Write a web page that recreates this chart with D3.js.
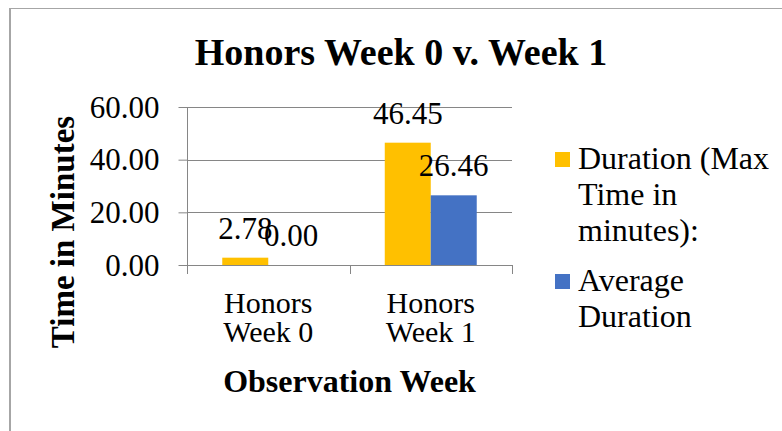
<!DOCTYPE html>
<html><head><meta charset="utf-8">
<script src="https://cdn.jsdelivr.net/npm/d3@7"></script>
<style>
html,body{margin:0;padding:0;background:#fff;}
svg{display:block;}
</style></head>
<body>
<svg id="c" width="782" height="431"></svg>
<script>
const categories = ["Honors Week 0", "Honors Week 1"];
const categoryLines = [["Honors", "Week 0"], ["Honors", "Week 1"]];
const seriesNames = ["Duration (Max Time in minutes):", "Average Duration"];
const seriesColors = ["#FFC000", "#4472C4"];
const durationMax = [2.78, 46.45];
const averageDuration = [0.00, 26.46];
const yTicks = [0, 20, 40, 60];
const chartTitle = "Honors Week 0 v. Week 1";
const xTitle = "Observation Week";
const yTitle = "Time in Minutes";

const FONT = "Liberation Serif, Tinos, Times New Roman, serif";
const seriesValues = [durationMax, averageDuration];
const svg = d3.select("#c");

// chart border (left + top)
svg.append("line").attr("x1",10).attr("x2",10).attr("y1",8).attr("y2",431)
  .attr("stroke","#a6a6a6").attr("stroke-width",2);
svg.append("line").attr("x1",9).attr("x2",782).attr("y1",8.5).attr("y2",8.5)
  .attr("stroke","#a6a6a6").attr("stroke-width",1);

const plotL = 187, plotR = 512, plotT = 107, plotB = 265;
const y = d3.scaleLinear().domain([0,60]).range([plotB, plotT]);
const x0 = d3.scaleBand().domain(categories).range([plotL, plotR])
  .paddingInner(0.434).paddingOuter(0.217);
const x1 = d3.scaleBand().domain(seriesNames).range([0, x0.bandwidth()]);

// gridlines
svg.append("g").selectAll("line").data(yTicks.filter(t=>t>0)).join("line")
  .attr("x1", plotL).attr("x2", plotR)
  .attr("y1", d=>Math.round(y(d))+0.5).attr("y2", d=>Math.round(y(d))+0.5)
  .attr("stroke","#868686").attr("stroke-width",1);

// bars and data labels
const groups = svg.append("g").selectAll("g").data(categories).join("g")
  .attr("transform", c=>`translate(${x0(c)},0)`);
groups.selectAll("rect").data((c,i)=>seriesNames.map((s,j)=>({s, j, v: seriesValues[j][i]})))
  .join("rect")
  .attr("x", d=>x1(d.s)).attr("width", x1.bandwidth())
  .attr("y", d=>y(d.v)).attr("height", d=>y(0)-y(d.v))
  .attr("fill", d=>seriesColors[d.j]);
groups.selectAll("text").data((c,i)=>seriesNames.map((s,j)=>({s, j, v: seriesValues[j][i]})))
  .join("text")
  .attr("x", d=>x1(d.s)+x1.bandwidth()/2).attr("y", d=>y(d.v)-19)
  .attr("text-anchor","middle").attr("font-family",FONT).attr("font-size",31)
  .text(d=>d.v.toFixed(2));

// y axis
const yAxis = d3.axisLeft(y).tickValues(yTicks).tickFormat(d3.format(".2f")).tickSize(9).tickPadding(19);
const gy = svg.append("g").attr("transform",`translate(${plotL+0.5},0)`).call(yAxis);
gy.attr("font-family",FONT).attr("font-size",31);
gy.select(".domain").attr("stroke","#868686").attr("d",`M0,${plotT}V${plotB}`);
gy.selectAll(".tick line").attr("stroke","#868686");
gy.selectAll(".tick text").attr("fill","#000").attr("dy","0.33em");

// x axis
svg.append("line").attr("x1",plotL).attr("x2",plotR).attr("y1",plotB+0.5).attr("y2",plotB+0.5)
  .attr("stroke","#868686");
const step = x0.step(), pin = x0.paddingInner();
const bounds = categories.map(c=>x0(c)-step*pin/2).concat([x0(categories[categories.length-1])+x0.bandwidth()+step*pin/2]);
svg.append("g").selectAll("line").data(bounds).join("line")
  .attr("x1", d=>Math.round(d)+0.5).attr("x2", d=>Math.round(d)+0.5)
  .attr("y1", plotB).attr("y2", plotB+9).attr("stroke","#868686");
svg.append("g").selectAll("text").data(categories).join("text")
  .attr("x", c=>x0(c)+x0.bandwidth()/2).attr("y", 313)
  .attr("text-anchor","middle").attr("font-family",FONT).attr("font-size",30)
  .each(function(c,i){
    d3.select(this).selectAll("tspan").data(categoryLines[i]).join("tspan")
      .attr("x", x0(c)+x0.bandwidth()/2).attr("dy",(d,k)=>k===0?0:29).text(d=>d);
  });

// titles
svg.append("text").attr("x", 401).attr("y", 65).attr("text-anchor","middle")
  .attr("font-family",FONT).attr("font-size",38).attr("font-weight","bold").text(chartTitle);
svg.append("text").attr("x", (plotL+plotR)/2).attr("y", 392).attr("text-anchor","middle")
  .attr("font-family",FONT).attr("font-size",32).attr("font-weight","bold").text(xTitle);
svg.append("text").attr("transform","translate(74,232) rotate(-90)").attr("text-anchor","middle")
  .attr("font-family",FONT).attr("font-size",33).attr("font-weight","bold").text(yTitle);

// legend
const legendStarts = [169, 291];
seriesNames.forEach((name,j)=>{
  const g = svg.append("g");
  g.append("rect").attr("x",555).attr("y",legendStarts[j]-17).attr("width",15).attr("height",15)
    .attr("fill",seriesColors[j]);
  const t = g.append("text").attr("x",578).attr("y",legendStarts[j])
    .attr("font-family",FONT).attr("font-size",32);
  const words = name.split(" ");
  let line = [];
  let tspan = t.append("tspan").attr("x",578).attr("dy",0);
  words.forEach(w=>{
    line.push(w);
    tspan.text(line.join(" "));
    if (tspan.node().getComputedTextLength() > 198 && line.length>1) {
      line.pop(); tspan.text(line.join(" "));
      line = [w];
      tspan = t.append("tspan").attr("x",578).attr("dy",36).text(w);
    }
  });
});
</script>
</body></html>
